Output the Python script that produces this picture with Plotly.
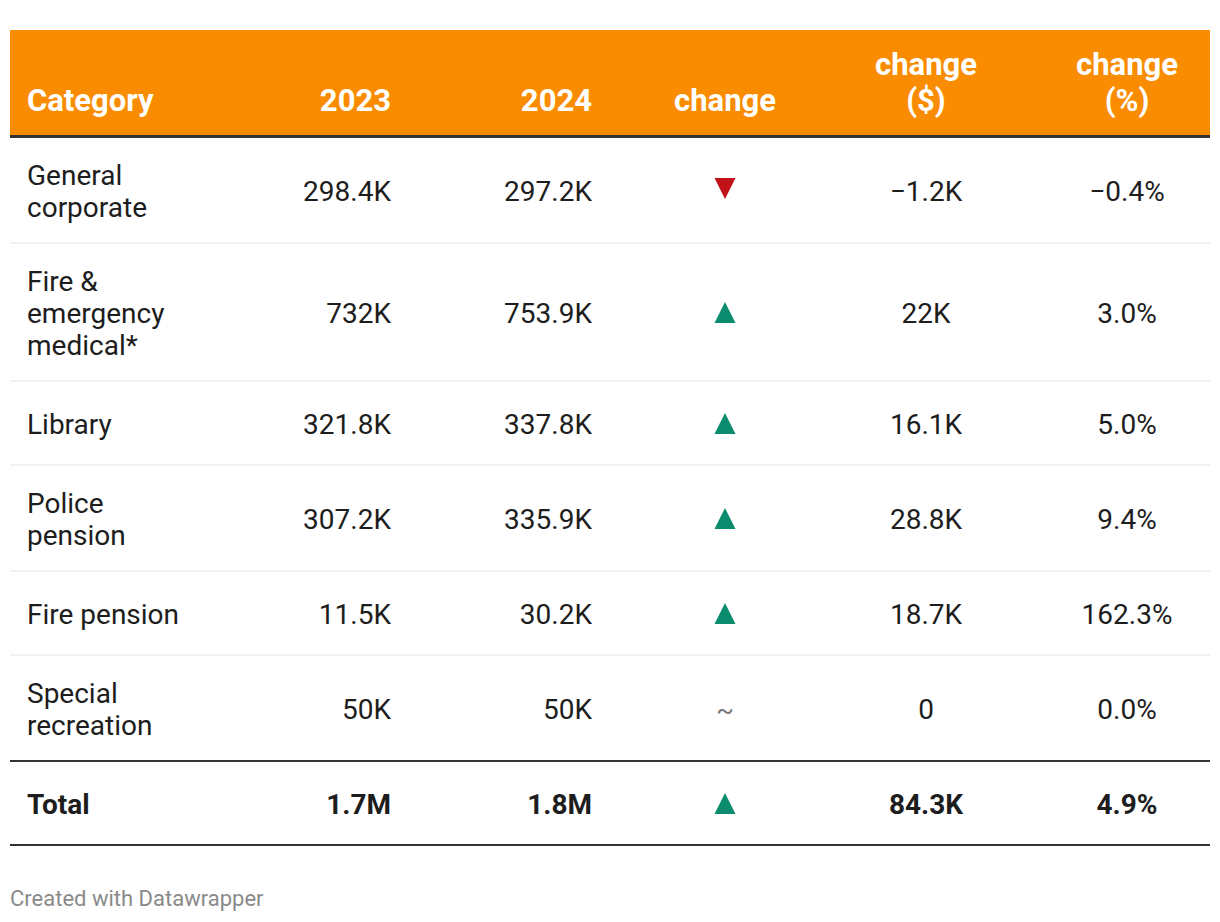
import plotly.graph_objects as go

# ---- data ----
categories = ["General<br>corporate", "Fire &<br>emergency<br>medical*", "Library",
              "Police<br>pension", "Fire pension", "Special<br>recreation"]
v2023_k = [298.4, 732, 321.8, 307.2, 11.5, 50]
v2024_k = [297.2, 753.9, 337.8, 335.9, 30.2, 50]
change_k = [-1.2, 22, 16.1, 28.8, 18.7, 0]
change_pct = [-0.4, 3.0, 5.0, 9.4, 162.3, 0.0]
total_label = "Total"
total_2023_m = 1.7
total_2024_m = 1.8
total_change_k = 84.3
total_change_pct = 4.9
headers = ["Category", "2023", "2024", "change", "change<br>($)", "change<br>(%)"]
footer = "Created with Datawrapper"

MINUS = "\u2212"


def fmt_num(v, unit):
    if v == 0:
        return "0"
    s = f"{abs(v):.1f}"
    if s.endswith(".0"):
        s = s[:-2]
    return (MINUS if v < 0 else "") + s + unit


def fmt_pct(v):
    return (MINUS if v < 0 else "") + f"{abs(v):.1f}%"


W, H = 1220, 922
FONT = "Roboto, Arial, sans-serif"
FS = 28
HFS = 31
ORANGE = "#f98c00"
DARK = "#333333"
TXT = "#1d1d1d"
TEXT_DY = 3

left, right = 10, 1210
header_top, header_bot = 30, 135
row_bounds = [136, 243, 381, 465, 571, 655, 761]
total_bot = 845
col_x = {"cat": 27, "y23": 391, "y24": 592, "chg": 725, "chd": 926, "chp": 1127}
LINE_H = 32
HLINE_H = 36

fig = go.Figure()


def add_text(xs, ys, texts, pos, size, color, bold=False, line_h=LINE_H):
    """Add (possibly multi-line) text items, each line placed separately."""
    px, py, pt = [], [], []
    for x, y, t in zip(xs, ys, texts):
        lines = t.split("<br>")
        n = len(lines)
        for i, ln in enumerate(lines):
            px.append(x)
            py.append(y + (i - (n - 1) / 2) * line_h + TEXT_DY)
            pt.append(f"<b>{ln}</b>" if bold else ln)
    fig.add_trace(go.Scatter(x=px, y=py, mode="text", text=pt, textposition=pos,
                             textfont=dict(family=FONT, size=size, color=color),
                             hoverinfo="skip"))


shapes = []
shapes.append(dict(type="rect", x0=left, x1=right, y0=header_top, y1=header_bot,
                   fillcolor=ORANGE, line=dict(width=0), layer="below"))
shapes.append(dict(type="line", x0=left, x1=right, y0=136.5, y1=136.5,
                   line=dict(color=DARK, width=3)))
for yb in row_bounds[1:-1]:
    shapes.append(dict(type="line", x0=left, x1=right, y0=yb, y1=yb,
                       line=dict(color="#ececec", width=1.5)))
shapes.append(dict(type="line", x0=left, x1=right, y0=761, y1=761,
                   line=dict(color=DARK, width=2)))
shapes.append(dict(type="line", x0=left, x1=right, y0=total_bot, y1=total_bot,
                   line=dict(color=DARK, width=2)))

# header
hy = 100
add_text([col_x["cat"]], [hy], [headers[0]], "middle right", HFS, "white", True, HLINE_H)
add_text([col_x["y23"], col_x["y24"]], [hy, hy], headers[1:3], "middle left", HFS, "white", True, HLINE_H)
add_text([col_x["chg"], col_x["chd"], col_x["chp"]],
         [hy, hy - HLINE_H / 2, hy - HLINE_H / 2], headers[3:], "middle center", HFS, "white", True, HLINE_H)

# rows
row_y = [191, 313, 424, 519, 614, 709]
n = len(categories)
add_text([col_x["cat"]] * n, row_y, categories, "middle right", FS, TXT)
add_text([col_x["y23"]] * n, row_y, [fmt_num(v, "K") for v in v2023_k], "middle left", FS, TXT)
add_text([col_x["y24"]] * n, row_y, [fmt_num(v, "K") for v in v2024_k], "middle left", FS, TXT)
add_text([col_x["chd"]] * n, row_y, [fmt_num(v, "K") for v in change_k], "middle center", FS, TXT)
add_text([col_x["chp"]] * n, row_y, [fmt_pct(v) for v in change_pct], "middle center", FS, TXT)

# change indicators (arrow markers: anchored at the tip)
total_y = 804
up_y = [y for y, c in zip(row_y, change_k) if c > 0] + ([total_y] if total_change_k > 0 else [])
dn_y = [y for y, c in zip(row_y, change_k) if c < 0]
eq_y = [y for y, c in zip(row_y, change_k) if c == 0]

fig.add_trace(go.Scatter(x=[col_x["chg"]] * len(up_y), y=[y - 11 for y in up_y], mode="markers",
                         marker=dict(symbol="arrow-up", size=21, color="#0b8c6e", line=dict(width=0)),
                         hoverinfo="skip"))
fig.add_trace(go.Scatter(x=[col_x["chg"]] * len(dn_y), y=[y + 8 for y in dn_y], mode="markers",
                         marker=dict(symbol="arrow-down", size=21, color="#c1121a", line=dict(width=0)),
                         hoverinfo="skip"))
add_text([col_x["chg"]] * len(eq_y), eq_y, ["~"] * len(eq_y), "middle center", 26, "#777777")

# total row
add_text([col_x["cat"]], [total_y], [total_label], "middle right", FS, TXT, True)
add_text([col_x["y23"], col_x["y24"]], [total_y, total_y],
         [fmt_num(total_2023_m, "M"), fmt_num(total_2024_m, "M")], "middle left", FS, TXT, True)
add_text([col_x["chd"], col_x["chp"]], [total_y, total_y],
         [fmt_num(total_change_k, "K"), fmt_pct(total_change_pct)], "middle center", FS, TXT, True)

# footer
add_text([left], [897], [footer], "middle right", 22, "#8a8a8a")

fig.update_layout(
    width=W, height=H, margin=dict(l=0, r=0, t=0, b=0),
    paper_bgcolor="white", plot_bgcolor="white", showlegend=False,
    shapes=shapes,
    xaxis=dict(range=[0, W], visible=False, fixedrange=True),
    yaxis=dict(range=[H, 0], visible=False, fixedrange=True),
)

fig.write_html("out.html", config={"displayModeBar": False},
               post_script="document.body.style.margin='0';document.body.style.overflow='hidden';")
